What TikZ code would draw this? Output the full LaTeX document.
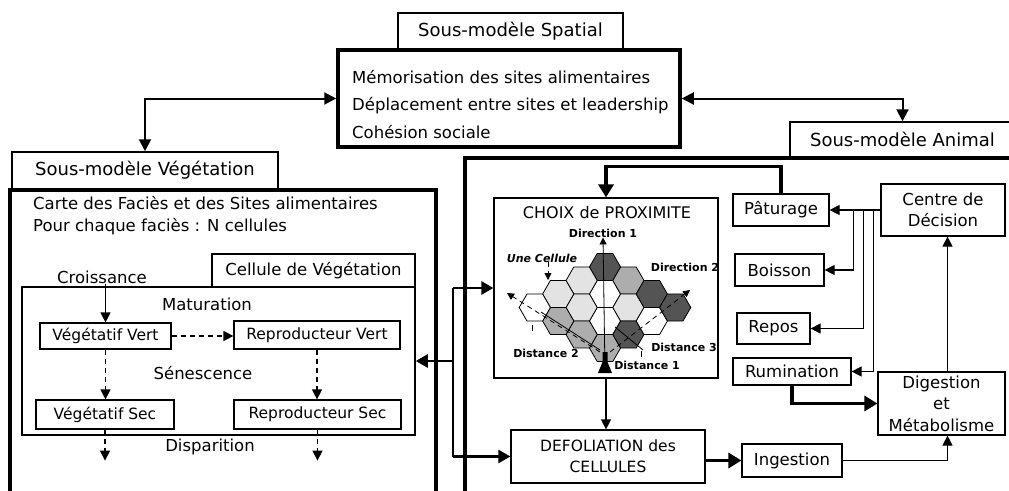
\documentclass[tikz,border=0pt]{standalone}
\usepackage{fontspec}
\setmainfont{DejaVu Sans}
\usetikzlibrary{arrows.meta, positioning, calc}

\definecolor{hexdark}{gray}{0.33}
\definecolor{hexmid}{gray}{0.68}
\definecolor{hexlight}{gray}{0.89}

\begin{document}
\begin{tikzpicture}[x=1pt, y=-1pt,
        box_title/.style={draw, rectangle, line width=1.5pt, fill=white, inner sep=0pt, font=\fontsize{18}{20}\selectfont},
        box_thick/.style={draw, rectangle, line width=3.5pt, inner sep=0pt},
        box_thin/.style={draw, rectangle, line width=1.2pt, inner sep=0pt},
        frame/.style={line width=3.5pt},
        txt/.style={font=\fontsize{16.5}{22}\selectfont, inner sep=0pt},
        state_box/.style={box_thin, font=\fontsize{15.5}{18}\selectfont},
        act_box/.style={box_thin, font=\fontsize{16.5}{21.5}\selectfont, align=center},
        hex_label/.style={font=\bfseries\fontsize{11}{12}\selectfont, inner sep=0pt},
        hex_cell/.style={line width=0.8pt},
        arr/.style={line width=1.2pt, -{Triangle[length=10pt, width=10pt]}},
        arr_link/.style={line width=2pt, {Triangle[length=12pt, width=12pt]}-{Triangle[length=12pt, width=12pt]}},
        arr_bus/.style={line width=2.5pt, -{Triangle[length=12pt, width=13pt]}},
        arr_thick/.style={line width=3.5pt, -{Triangle[length=13pt, width=15pt]}},
        arr_hex/.style={line width=0.8pt, -{Triangle[length=7pt, width=7pt]}},
        dash_line/.style={dash pattern=on 5pt off 4pt}]

        \useasboundingbox (0,0) rectangle (1009,490);

        % Sous-modele spatial
        \node[box_title, minimum width=225pt, minimum height=37pt] (spatial_title) at (510.5,31.5) {Sous-modèle Spatial};
        \node[box_thick, fill=white, minimum width=342pt, minimum height=97pt] (spatial) at (509,98.5) {};
        \node[txt, anchor=west, align=left, font=\fontsize{16.5}{27.5}\selectfont] (spatial_txt) at (352,104.5)
            {Mémorisation des sites alimentaires\\Déplacement entre sites et leadership\\Cohésion sociale};

        % Sous-modele vegetation
        \node[box_title, minimum width=266pt, minimum height=37pt] (veg_title) at (145,170.5) {Sous-modèle Végétation};
        \draw[frame] (10,495) |- (436,190) -- (436,495);
        \node[txt, anchor=west, align=left] (veg_txt) at (33,216)
            {Carte des Faciès et des Sites alimentaires\\Pour chaque faciès : N cellules};

        % Cellule de vegetation
        \node[box_thin, line width=1.5pt, minimum width=393pt, minimum height=148pt] (cellule) at (218.5,361) {};
        \node[box_title, font=\fontsize{16.5}{18}\selectfont, minimum width=203pt, minimum height=33pt] (cell_title) at (313.5,270.5) {Cellule de Végétation};
        \node[txt] (croiss) at (102,277) {Croissance};
        \node[txt] (matur) at (207,304) {Maturation};
        \node[txt] (senesc) at (203,373) {Sénescence};
        \node[txt] (dispar) at (210,447) {Disparition};
        \node[state_box, minimum width=131pt, minimum height=26pt] (vv) at (105.5,336) {Végétatif Vert};
        \node[state_box, minimum width=166pt, minimum height=28pt] (rv) at (317,335) {Reproducteur Vert};
        \node[state_box, minimum width=138pt, minimum height=29pt] (vs) at (105,414.5) {Végétatif Sec};
        \node[state_box, minimum width=167pt, minimum height=29pt] (rs) at (317.5,414.5) {Reproducteur Sec};

        \draw[arr] (vv.north |- croiss.south) -- (vv.north);
        \draw[arr, dash_line] (vv.east) -- (vv.east -| rv.west);
        \draw[arr, dash_line] (vv.south) -- (vv.south |- vs.north);
        \draw[arr, dash_line] (rv.south) -- (rv.south |- rs.north);
        \draw[arr, dash_line] (vs.south) -- ++(0,31);
        \draw[arr, dash_line] (rs.south) -- ++(0,31);

        % Sous-modele animal
        \node[box_title, minimum width=225pt, minimum height=35pt] (ani_title) at (902.5,139.5) {Sous-modèle Animal};
        \draw[frame] (465,495) |- (1015,158);

        \node[box_thin, minimum width=224pt, minimum height=180pt] (choix) at (606,288) {};
        \node[font=\fontsize{16}{18}\selectfont, inner sep=0pt] (choix_txt) at (607,213) {CHOIX de PROXIMITE};
        \node[act_box, font=\fontsize{15.5}{21}\selectfont, minimum width=194pt, minimum height=53pt] (defol) at (608,456.5) {DEFOLIATION des\\CELLULES};

        \node[act_box, minimum width=96pt, minimum height=32pt] (pat) at (781,210) {Pâturage};
        \node[act_box, minimum width=89pt, minimum height=32pt] (bois) at (779.5,270) {Boisson};
        \node[act_box, minimum width=73pt, minimum height=31pt] (repos) at (773.5,328.5) {Repos};
        \node[act_box, minimum width=118pt, minimum height=27pt] (rum) at (792,371.5) {Rumination};
        \node[act_box, minimum width=100pt, minimum height=33pt] (ing) at (792,460.5) {Ingestion};
        \node[act_box, minimum width=124pt, minimum height=52pt] (centre) at (943,210) {Centre de\\Décision};
        \node[act_box, minimum width=127pt, minimum height=63pt] (dig) at (941.5,403.5) {Digestion\\et\\Métabolisme};

        % Grille des cellules
        \foreach \c/\r/\tone in {0/0/hexdark, 0/1/white, 0/2/white, 0/3/hexmid,
                1/0/hexmid, 1/1/hexlight, 1/2/hexdark, 2/1/hexdark, 2/2/white, 3/1/hexdark,
                -1/0/hexlight, -1/1/hexlight, -1/2/hexmid, -2/1/hexlight, -2/2/hexmid, -3/1/white} {
            \pgfmathsetmacro{\hx}{605+23.4*\c}
            \pgfmathsetmacro{\hy}{267+27*\r+13.5*mod(abs(\c),2)}
            \draw[hex_cell, fill=\tone] (\hx,\hy) +(0:15.6) -- +(60:15.6) -- +(120:15.6)
                -- +(180:15.6) -- +(240:15.6) -- +(300:15.6) -- cycle;
        }

        \node[hex_label] (dir1) at (603,233) {Direction 1};
        \node[hex_label, font=\bfseries\itshape\fontsize{11}{12}\selectfont] (une) at (542,258) {Une Cellule};
        \node[hex_label] (dir2) at (685,267) {Direction 2};
        \node[hex_label] (dist2) at (546,353) {Distance 2};
        \node[hex_label] (dist3) at (684,347) {Distance 3};
        \node[hex_label] (dist1) at (647,365) {Distance 1};

        \coordinate (hex_base) at (605,372);
        \coordinate (cell_top) at (548,280);
        \coordinate (tip_left) at (507,293);
        \coordinate (tip_right) at (690,290);

        \draw[arr_hex] (hex_base) -- (dir1.south);
        \draw[arr_hex, dash_line] (une.south -| cell_top) -- (cell_top);
        \draw[arr_hex, dash_line] (600,352) -- (tip_left);
        \draw[arr_hex, dash_line] (610,352) -- (tip_right);
        \draw[hex_cell] (541,312) -- (600,350);
        \draw[hex_cell] (615,327) -- (643,350);
        \draw[line width=1pt] (532,325) -- (532,331);
        \draw[line width=1pt] (641,351) -- (641,357);
        \fill (598,373) -- (612,373) -- (607.5,362) -- (607.5,352) -- (602.5,352) -- (602.5,362) -- cycle;

        % Liens entre sous-modeles
        \draw[arr_link] (veg_title.north) |- (spatial.west);
        \draw[arr_link] (spatial.east) -| (ani_title.north);

        \coordinate (bus) at (453,361);
        \draw[line width=2.5pt] (bus |- choix.west) -- (bus |- defol.west);
        \draw[arr_bus] (bus) -- (cellule.east);
        \draw[arr_bus] (bus |- choix.west) -- (choix.west);
        \draw[arr_bus] (bus |- defol.west) -- (defol.west);

        % Liens du sous-modele animal
        \draw[arr_thick] (pat.north) |- ($(choix.north)+(0,-31)$) -- (choix.north);
        \draw[arr] (choix.south) -- (choix.south |- defol.north);
        \draw[arr_thick] (defol.east |- ing.west) -- (ing.west);
        \draw[arr] (centre.west) -- (pat.east);
        \draw[arr] ($(pat.east)+(24,0)$) |- (bois.east);
        \draw[arr] ($(pat.east)+(34,0)$) |- (repos.east);
        \draw[arr] ($(pat.east)+(44,0)$) |- (rum.east);
        \draw[arr_thick] (rum.south) |- (dig.west);
        \draw[arr] ([xshift=6pt]dig.north) -- ([xshift=6pt]dig.north |- centre.south);
        \draw[arr] (ing.east) -| ([xshift=6pt]dig.south);
    \end{tikzpicture}
\end{document}
